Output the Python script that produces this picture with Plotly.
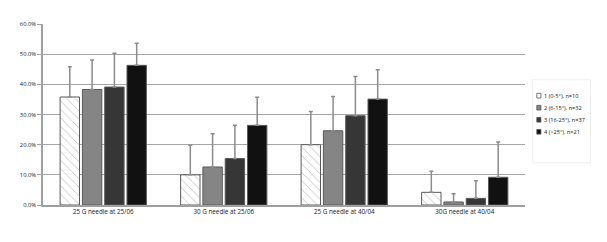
import plotly.graph_objects as go

categories = ['25 G needle at 25/06', '30 G needle at 25/06', '25 G needle at 40/04', '30G needle at 40/04']
series_names = ['1 (0-5°), n=10', '2 (6-15°), n=32', '3 (16-25°), n=37', '4 (>25°), n=21']

# mean values (%) per series, one per category
g1 = [35.8, 10.0, 20.0, 4.2]
g2 = [38.3, 12.6, 24.6, 1.0]
g3 = [39.1, 15.4, 29.6, 2.2]
g4 = [46.3, 26.4, 35.1, 9.2]

# upper error (%) per series
e1 = [10.0, 9.8, 11.0, 7.0]
e2 = [9.8, 11.0, 11.4, 2.7]
e3 = [11.2, 11.0, 13.0, 5.8]
e4 = [7.3, 9.3, 9.7, 11.7]

values = [g1, g2, g3, g4]
errors = [e1, e2, e3, e4]
fills = ['white', '#858585', '#363636', '#111111']

fig = go.Figure()
for i in range(4):
    marker = dict(color=fills[i], line=dict(color='#5a5a5a', width=1))
    if i == 0:
        marker['pattern'] = dict(shape='\\', fgcolor='#8a8a8a', bgcolor='white',
                                 size=6, solidity=0.15)
    fig.add_trace(go.Bar(
        x=categories, y=values[i], name=series_names[i],
        marker=marker,
        error_y=dict(type='data', array=errors[i], symmetric=False,
                     arrayminus=[0] * 4, color='#8c8c8c', thickness=1.5, width=2),
        showlegend=False,
    ))

# custom compact legend
shapes = [dict(type='rect', xref='paper', yref='paper', x0=1.016, x1=1.136,
               y0=0.233, y1=0.692, line=dict(color='#f0f0f0', width=1),
               fillcolor='rgba(0,0,0,0)')]
annotations = []
for i, name in enumerate(series_names):
    yc = 0.604 - i * 0.0665
    shapes.append(dict(type='rect', xref='paper', yref='paper',
                       x0=1.0245, x1=1.033, y0=yc - 0.013, y1=yc + 0.013,
                       fillcolor=fills[i], line=dict(color='#555', width=0.8)))
    annotations.append(dict(text=name, xref='paper', yref='paper', x=1.0345, y=yc,
                            xanchor='left', yanchor='middle', showarrow=False,
                            font=dict(size=5.6, color='#222', family='Open Sans')))

# page body has an 8px margin, so the figure is 8px smaller and shifted
fig.update_layout(
    width=599, height=234,
    margin=dict(l=33, r=82, t=16, b=37),
    paper_bgcolor='white', plot_bgcolor='white',
    barmode='group', bargap=0.26, bargroupgap=0.13,
    font=dict(family='Open Sans', size=6.3, color='#222'),
    xaxis=dict(showline=True, linecolor='#a0a0a0', linewidth=1.5,
               ticks='', tickfont=dict(size=6.3, color='#222')),
    yaxis=dict(range=[0, 60], dtick=10, tickformat='.1f', ticksuffix='%',
               showgrid=True, gridcolor='#a6a6a6', gridwidth=1.3,
               showline=True, linecolor='#a0a0a0', linewidth=1.5,
               ticks='outside', ticklen=4, tickcolor='#a0a0a0',
               tickfont=dict(size=5.8, color='#222'), zeroline=False),
    shapes=shapes, annotations=annotations,
)

fig.write_html("out.html")
